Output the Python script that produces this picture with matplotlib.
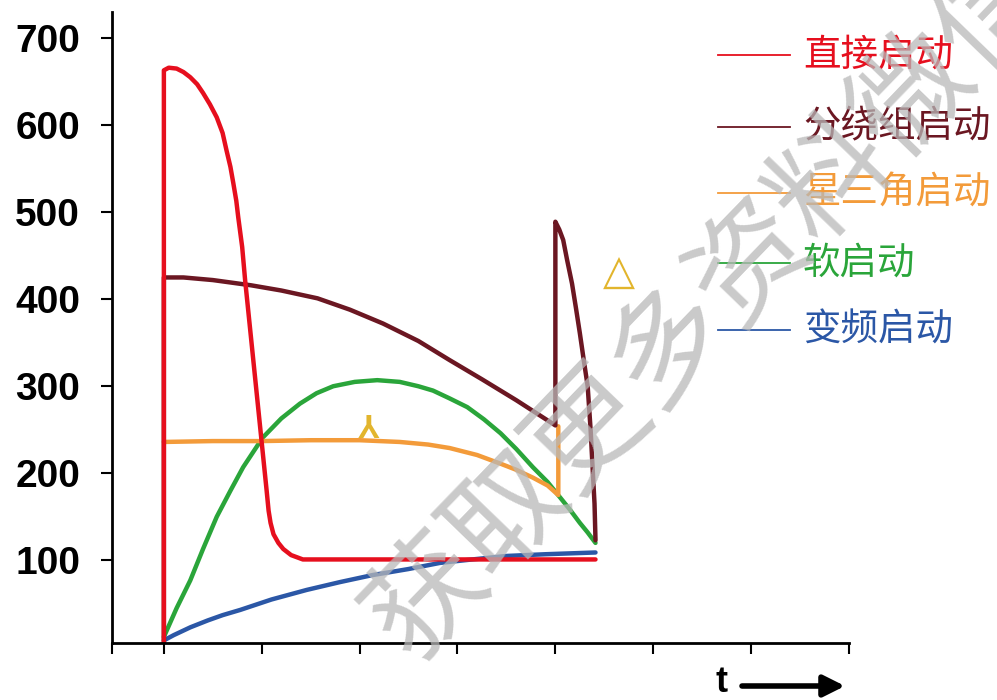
import matplotlib
matplotlib.use("Agg")
import matplotlib.pyplot as plt

plt.rcParams['font.family'] = ['Noto Sans CJK SC', 'DejaVu Sans']

# 直接启动
direct_x = [0, 0, 0.05, 0.13, 0.20, 0.27, 0.34, 0.40, 0.47, 0.54, 0.60, 0.64, 0.68, 0.71, 0.74,
            0.76, 0.80, 0.83, 0.95, 1.05, 1.07, 1.09, 1.12, 1.17, 1.22, 1.30, 1.42, 4.41]
direct_y = [0, 663, 666, 665, 661, 655, 647, 637, 624, 609, 591, 571, 552, 533, 513,
            494, 460, 422, 290, 180, 157, 143, 130, 120, 113, 106, 101, 101]

# 分绕组启动
winding_x = [0, 0, 0.2, 0.5, 0.89, 1.2, 1.57, 1.9, 2.24, 2.6, 2.92, 3.25, 3.6, 4.0,
             4.0, 4.04, 4.08, 4.12, 4.17, 4.21, 4.25, 4.29, 4.33, 4.36, 4.38, 4.40, 4.41]
winding_y = [0, 425, 425, 422, 416, 410, 401, 388, 372, 352, 330, 308, 284, 255,
             489, 480, 468, 445, 418, 390, 361, 330, 300, 250, 207, 165, 123]

# 星三角启动
stardelta_x = [0, 0.5, 1.0, 1.5, 2.0, 2.41, 2.7, 2.92, 3.2, 3.44, 3.6, 3.77, 3.92, 4.03, 4.03]
stardelta_y = [236, 237, 237, 238, 238, 236, 233, 229, 221, 211, 204, 195, 186, 175, 254]

# 软启动
soft_x = [0, 0.13, 0.27, 0.40, 0.54, 0.68, 0.81, 1.01, 1.20, 1.39, 1.56, 1.73, 1.95, 2.18, 2.41,
          2.60, 2.75, 2.92, 3.10, 3.27, 3.44, 3.60, 3.77, 3.92, 4.05, 4.15, 4.25, 4.33, 4.41]
soft_y = [12, 45, 77, 113, 150, 180, 207, 241, 263, 280, 292, 300, 305, 307, 305,
          300, 295, 286, 276, 262, 246, 228, 207, 190, 172, 158, 143, 132, 120]

# 变频启动
vfd_x = [0, 0.10, 0.27, 0.45, 0.60, 0.78, 1.10, 1.46, 1.80, 2.13, 2.50, 2.82, 3.15, 3.50, 3.90, 4.41]
vfd_y = [8, 14, 23, 31, 37, 43, 55, 66, 75, 83, 90, 97, 101, 105, 107, 109]

y_ticks = [100, 200, 300, 400, 500, 600, 700]
x_ticks = [-0.53, 0, 1, 2, 3, 4, 5, 6, 7]

labels = ['直接启动', '分绕组启动', '星三角启动', '软启动', '变频启动']
colors = ['#e60f1e', '#6b1722', '#f39b3a', '#2aa53a', '#2b57a6']
series = [(direct_x, direct_y), (winding_x, winding_y), (stardelta_x, stardelta_y),
          (soft_x, soft_y), (vfd_x, vfd_y)]

fig = plt.figure(figsize=(9.97, 7), dpi=100)
ax = fig.add_axes([112 / 997, 57 / 700, (849 - 112) / 997, (643 - 12) / 700])

# draw order: green/orange under, reds on top
for idx in [3, 2, 4, 1, 0]:
    xs, ys = series[idx]
    ax.plot(xs, ys, color=colors[idx], lw=3.2, solid_joinstyle='round', solid_capstyle='round')

ax.set_xlim(-0.53, 7.0)
ax.set_ylim(5, 730)
ax.set_xticks(x_ticks)
ax.set_xticklabels([])
ax.set_yticks(y_ticks)
ax.set_yticklabels([str(v) for v in y_ticks], fontsize=28, fontweight='bold',
                   family=['Liberation Sans', 'DejaVu Sans'])
ax.tick_params(axis='both', direction='out', length=8, width=1.5, color='black')
ax.tick_params(axis='y', pad=15)
for s in ['top', 'right']:
    ax.spines[s].set_visible(False)
for s in ['left', 'bottom']:
    ax.spines[s].set_linewidth(2)
ax.patch.set_alpha(0)

# symbols on curves
ax.text(2.09, 259, 'Y', rotation=180, ha='center', va='center', fontsize=24, fontweight='bold',
        color='#e2b52c', family=['Liberation Sans', 'DejaVu Sans'])
ax.text(4.65, 430, '△', ha='center', va='center', fontsize=30, fontweight='bold',
        color='#e2b52c', family=['DejaVu Sans'])

# legend drawn by hand
legend_y = [55, 127, 193, 263, 330]
for lab, col, yy in zip(labels, colors, legend_y):
    fy = 1 - yy / 700
    fig.add_artist(plt.Line2D([718 / 997, 790 / 997], [fy, fy], color=col, lw=1.3))
    fig.text(803 / 997, fy, lab, color=col, fontsize=27, va='center', ha='left')

# t axis arrow
fig.text(722 / 997, 17 / 700, 't', fontsize=26, fontweight='bold', ha='center', va='center',
         family=['Liberation Sans', 'DejaVu Sans'])
ax.annotate('', xy=(845 / 997, 14 / 700), xytext=(742 / 997, 14 / 700),
            xycoords='figure fraction', textcoords='figure fraction',
            arrowprops=dict(arrowstyle='-|>', lw=4, color='black', mutation_scale=32,
                            shrinkA=0, shrinkB=0))

# watermark
fig.text(411 / 997, 37 / 700, '获取更多资料微信', rotation=46, rotation_mode='anchor',
         ha='left', va='baseline', fontsize=84, color='#b8b8b8', alpha=0.75)

fig.savefig('out.png', dpi=100)
